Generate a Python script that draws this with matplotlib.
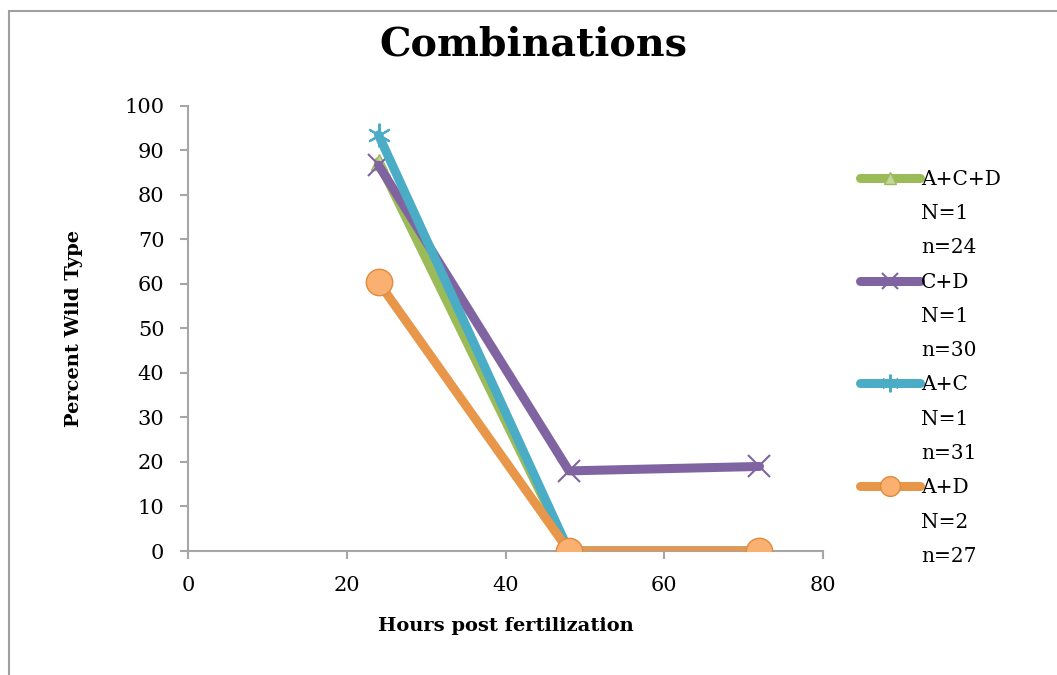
import matplotlib.pyplot as plt
from matplotlib.lines import Line2D
from matplotlib.patches import Rectangle

# Data
hours = [24, 48, 72]
acd = [87.5, 0, 0]
cd = [86.7, 18, 19]
ac = [93.5, 0, 0]
ad = [60.4, 0, 0]

series_names = ["A+C+D", "C+D", "A+C", "A+D"]
series_N = ["N=1", "N=1", "N=1", "N=2"]
series_n = ["n=24", "n=30", "n=31", "n=27"]

plt.rcParams["font.family"] = ["DejaVu Serif"]

fig = plt.figure(figsize=(10.57, 6.75), dpi=100)
ax = fig.add_axes([0.1779, 0.1837, 0.6007, 0.6593])

# -----------------------------
# Series
# -----------------------------
l1, = ax.plot(hours, acd, color="#9BBB59", lw=6.5, marker="^", ms=11,
              mfc="#C3D69B", mec="#9BBB59", mew=1, solid_capstyle="round", zorder=3)
l2, = ax.plot(hours, cd, color="#8064A2", lw=6.5, marker="x", ms=16,
              mec="#8064A2", mew=1.5, solid_capstyle="round", zorder=4)
l3, = ax.plot(hours, ac, color="#4BACC6", lw=6.5, marker=(6, 2, 0), ms=17,
              mec="#4BACC6", mew=1.5, solid_capstyle="round", zorder=5)
l4, = ax.plot(hours, ad, color="#E8964A", lw=6.5, marker="o", ms=19,
              mfc="#FAB070", mec="#E08A3C", mew=1, solid_capstyle="round", zorder=6)

# -----------------------------
# Axes styling
# -----------------------------
ax.set_xlim(0, 80)
ax.set_ylim(0, 100)
ax.set_xticks([0, 20, 40, 60, 80])
ax.set_yticks(range(0, 101, 10))
for s in ["top", "right"]:
    ax.spines[s].set_visible(False)
for s in ["left", "bottom"]:
    ax.spines[s].set_color("#A6A6A6")
    ax.spines[s].set_linewidth(1.5)
ax.tick_params(axis="both", direction="out", length=6, width=1.5,
               color="#A6A6A6", labelsize=15)
ax.tick_params(axis="x", pad=12)
ax.tick_params(axis="y", pad=11)

ax.set_xlabel("Hours post fertilization", fontsize=14, fontweight="bold", labelpad=16)
ax.set_ylabel("Percent Wild Type", fontsize=14, fontweight="bold", labelpad=30)

fig.text(533 / 1057, 1 - 45 / 675, "Combinations", fontsize=28.5, fontweight="bold",
         ha="center", va="center")

# -----------------------------
# Legend (one row per text line, handle on the first line)
# -----------------------------
blank = Line2D([], [], color="none")
handles = []
labels = []
for h, name, N, n in zip([l1, l2, l3, l4], series_names, series_N, series_n):
    handles += [h, blank, blank]
    labels += [name, N, n]
leg = ax.legend(handles, labels, loc="upper left", bbox_to_anchor=(1.045, 0.875),
                frameon=False, fontsize=14.5, handlelength=3.0, handletextpad=0.05,
                labelspacing=0.76, borderaxespad=0, markerscale=0.75)

# Outer frame
fig.patches.append(Rectangle((9 / 1057, -0.1), 1.2, 1.1 - 11 / 675,
                             transform=fig.transFigure, fill=False,
                             edgecolor="#A0A0A0", lw=1.5))

fig.savefig("out.png", dpi=100)
